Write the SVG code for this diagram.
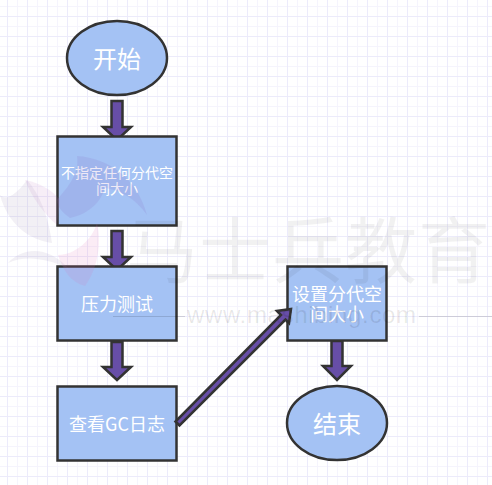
<svg xmlns="http://www.w3.org/2000/svg" width="492" height="485" viewBox="0 0 492 485">
<style>
.n{fill:#a4c2f4;stroke:#333;stroke-width:2.500}
.a{fill:#674ea7;stroke:#333;stroke-width:2.500;stroke-linejoin:miter}
.t{fill:#fff;font-family:"Noto Sans CJK SC","Liberation Sans",sans-serif;text-anchor:middle;dominant-baseline:central}
.wm{fill:#000;font-family:"Noto Sans CJK SC","Liberation Sans",sans-serif}
</style>
<defs>
<pattern id="g" width="20" height="20" patternUnits="userSpaceOnUse">
<path d="M0 6.5H20" stroke="#f5f4fd" stroke-width="1"/>
<path d="M17.5 0V20" stroke="#f5f4fd" stroke-width="1"/>
<path d="M0 16.5H20" stroke="#ecebfb" stroke-width="1"/>
<path d="M7.5 0V20" stroke="#ecebfb" stroke-width="1"/>
</pattern>
</defs>
<rect width="492" height="485" fill="#fff"/>
<rect width="492" height="485" fill="url(#g)"/>
<g id="connectors">
<path class="a" d="M111.500 101H122.500V127H131L117 140L103 127H111.500Z"/>
<path class="a" d="M111.500 231H122.500V257H131L117 270L103 257H111.500Z"/>
<path class="a" d="M111.500 342H122.500V367H131L117 380L103 367H111.500Z"/>
<path class="a" d="M331.500 341H342.500V366H351L337 380L323 366H331.500Z"/>
</g>
<g id="n1"><ellipse class="n" cx="117" cy="58" rx="50" ry="37"/><text class="t" x="117" y="57" font-size="24">开始</text></g>
<g id="n2"><rect class="n" x="57.500" y="136.500" width="119" height="89"/><text class="t" x="117" y="172" font-size="14">不指定任何分代空</text><text class="t" x="117" y="188" font-size="14">间大小</text></g>
<g id="n3"><rect class="n" x="57.500" y="266.500" width="119" height="74"/><text class="t" x="117" y="303" font-size="18">压力测试</text></g>
<g id="n4"><rect class="n" x="57.500" y="386.500" width="119" height="74"/><text class="t" x="117" y="423" font-size="18">查看GC日志</text></g>
<g id="n5"><rect class="n" x="287.500" y="266.500" width="99" height="74"/><text class="t" x="337" y="293" font-size="18">设置分代空</text><text class="t" x="337" y="313" font-size="18">间大小</text></g>
<g id="n6"><ellipse class="n" cx="337" cy="423" rx="50" ry="37"/><text class="t" x="337" y="422" font-size="24">结束</text></g>
<g id="c5"><path class="a" d="M175.500 421.500L179.500 425.500L285.500 319.500L289 323L291 309L277 311L281 315Z"/></g>
<g id="watermark">
<path d="M77 156C110 158 138 180 147 215C135 198 120 190 105 188C100 205 85 215 70 218C62 212 58 208 57 200C65 190 80 175 77 156Z" fill="#8a60c0" opacity=".14"/>
<path d="M25 180C40 183 52 190 60 200L57 225C45 215 32 198 25 180Z" fill="#c070c0" opacity=".12"/>
<path d="M0 195C10 205 27 180 27 180C40 195 48 215 52 243C30 240 8 225 0 195Z" fill="#9080b0" opacity=".12"/>
<path d="M97 223C102 245 97 270 85 286C70 282 63 270 58 255C75 255 92 240 97 223Z" fill="#e070b0" opacity=".13"/>
<path d="M8 263C25 245 50 248 68 268C45 258 25 255 8 263Z" fill="#9080b0" opacity=".12"/>
<text class="wm" x="126" y="277" font-size="72" fill-opacity=".055" letter-spacing="1">马士兵教育</text>
<text class="wm" x="187" y="323" font-size="24" fill-opacity=".09" textLength="229" style="font-family:'Liberation Sans',sans-serif">www.mashibing.com</text>
<path d="M113 316.500H185M419 316.500H492" stroke="#000" stroke-opacity=".13"/>
</g>
</svg>
